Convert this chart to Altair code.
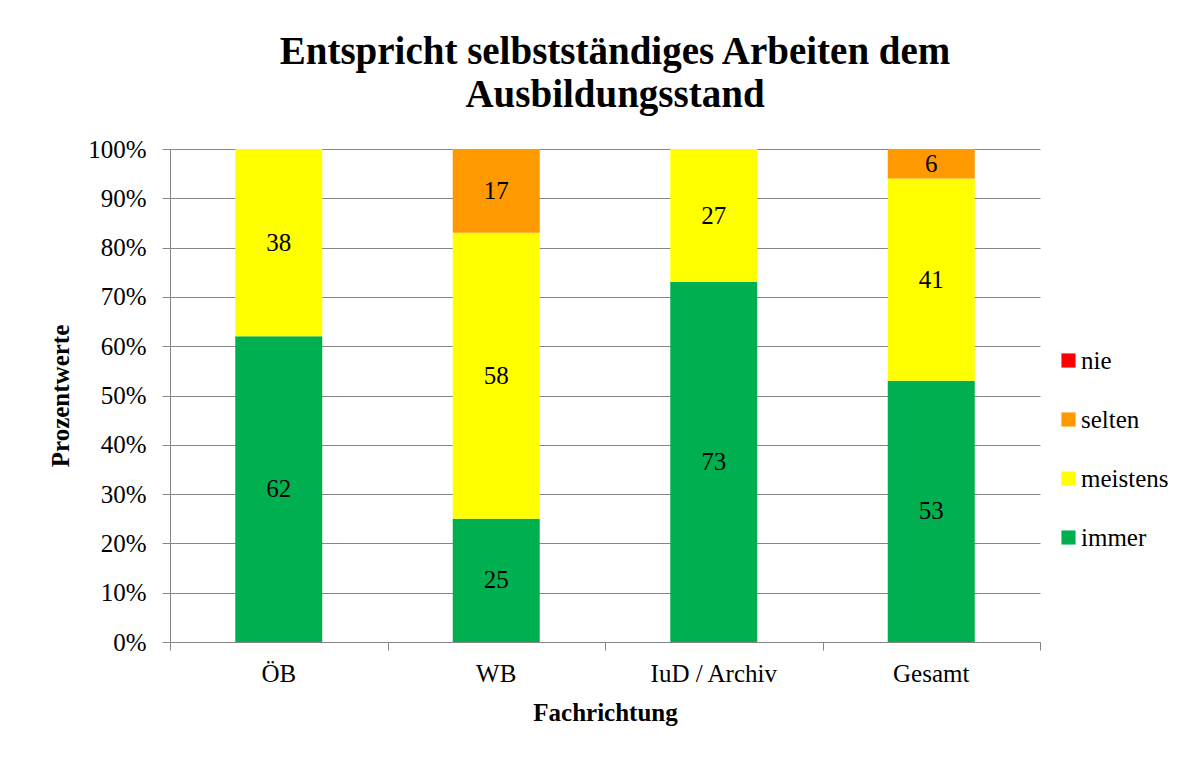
import altair as alt
import pandas as pd

categories = ["ÖB", "WB", "IuD / Archiv", "Gesamt"]
series = ["immer", "meistens", "selten", "nie"]
immer = [62, 25, 73, 53]
meistens = [38, 58, 27, 41]
selten = [0, 17, 0, 6]
nie = [0, 0, 0, 0]
colors = ["#00B050", "#FFFF00", "#FF9900", "#FF0000"]
y_ticks = [0, 10, 20, 30, 40, 50, 60, 70, 80, 90, 100]

rows = []
values = {"immer": immer, "meistens": meistens, "selten": selten, "nie": nie}
for i, c in enumerate(categories):
    base = 0
    for k, s in enumerate(series):
        v = values[s][i]
        rows.append({"cat": c, "idx": i, "series": s, "order": k, "value": v,
                     "y0": base, "y1": base + v, "mid": base + v / 2,
                     "label": str(v)})
        base += v
df = pd.DataFrame(rows)
bounds = pd.DataFrame({"b": list(range(len(categories) + 1))})

FONT = "Liberation Serif"
GRID = "#868686"

xscale = alt.Scale(domain=categories, paddingInner=0.6, paddingOuter=0.3)
yscale = alt.Scale(domain=[0, 100])

bars = alt.Chart(df).mark_bar().encode(
    x=alt.X("cat:N", scale=xscale, sort=categories,
            axis=alt.Axis(title="Fachrichtung", labelAngle=0, ticks=False,
                          orient="bottom",
                          labelPadding=19, titlePadding=14, domain=True,
                          domainColor=GRID, labelFontSize=25, titleFontSize=25,
                          labelFont=FONT, titleFont=FONT, labelColor="#000",
                          titleColor="#000")),
    y=alt.Y("y0:Q", scale=yscale,
            axis=alt.Axis(title="Prozentwerte", values=y_ticks,
                          labelExpr="datum.value + '%'", tickSize=8,
                          tickColor=GRID, domainColor=GRID, gridColor=GRID,
                          grid=True, labelPadding=16, titlePadding=14,
                          labelFontSize=25, titleFontSize=25, labelFont=FONT,
                          titleFont=FONT, labelColor="#000", titleColor="#000")),
    y2="y1:Q",
    color=alt.Color("series:N",
                    scale=alt.Scale(domain=series, range=colors),
                    legend=alt.Legend(title=None, orient="none", legendX=886,
                                      legendY=199, values=series[::-1],
                                      symbolType="square", symbolSize=200,
                                      symbolStrokeWidth=0, labelFontSize=25,
                                      labelFont=FONT, labelColor="#000",
                                      rowPadding=33, labelOffset=0)),
    order=alt.Order("order:Q"),
)

labels = alt.Chart(df).transform_filter("datum.value > 0").mark_text(
    font=FONT, fontSize=25, color="#000", baseline="middle"
).encode(
    x=alt.X("cat:N", scale=xscale, sort=categories),
    y=alt.Y("mid:Q", scale=yscale),
    text="label:N",
)

ticks = alt.Chart(bounds).mark_point(opacity=0).encode(
    x=alt.X("b:Q", scale=alt.Scale(domain=[0, len(categories)], nice=False,
                                   zero=False),
            axis=alt.Axis(values=bounds["b"].tolist(), labels=False,
                          orient="bottom",
                          title=None, domain=False, grid=False, tickSize=8,
                          tickColor=GRID)),
)

main = alt.layer(bars, labels)

chart = alt.layer(main, ticks).resolve_scale(
    x="independent"
).resolve_axis(x="independent").properties(
    width=870, height=493,
    padding={"left": 162, "top": 141, "right": 150, "bottom": 100},
    autosize=alt.AutoSizeParams(type="none"),
    background="#FFFFFF",
    title=alt.TitleParams(
        text=["Entspricht selbstständiges Arbeiten dem", "Ausbildungsstand"],
        font=FONT, fontSize=39, fontWeight="bold", color="#000",
        anchor="middle", lineHeight=43, offset=22, dx=10),
).configure(font=FONT).configure_view(stroke=None)

chart.save("out.html", embed_options={"renderer": "svg", "actions": False})
